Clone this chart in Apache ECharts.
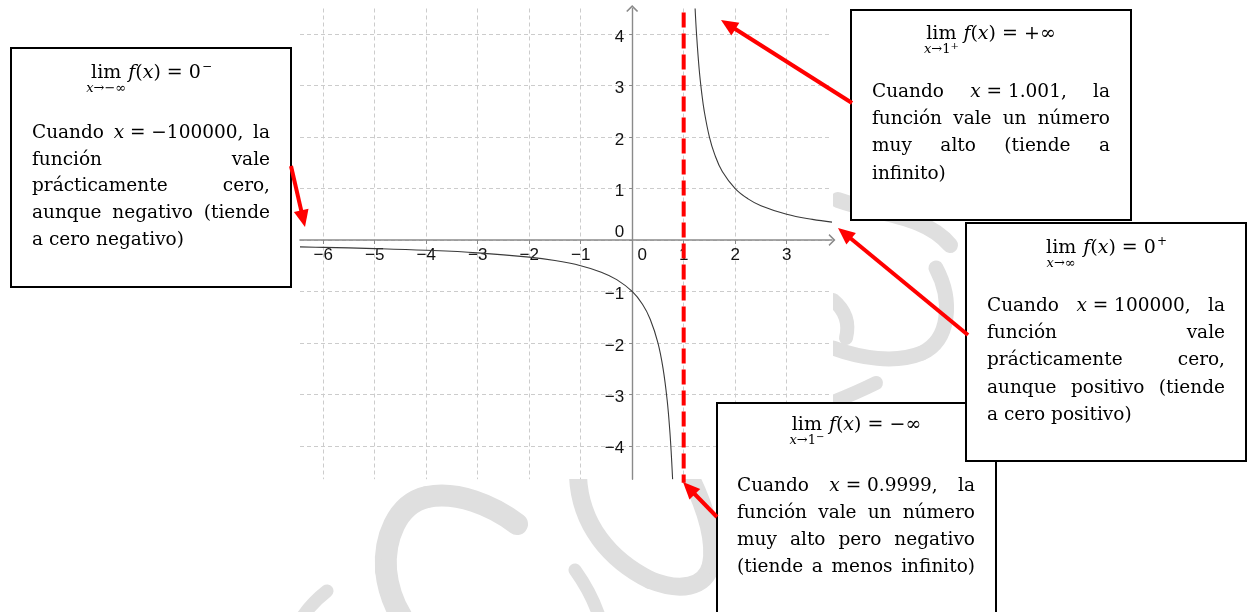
<!DOCTYPE html>
<html><head><meta charset="utf-8">
<script src="https://cdn.jsdelivr.net/npm/echarts@6/dist/echarts.min.js"></script>
<style>html,body{margin:0;padding:0;background:#fff}#c{width:1253px;height:612px}</style>
</head><body><div id="c"></div>
<script>
// ---------- data ----------
const xTicks = [-6, -5, -4, -3, -2, -1, 0, 1, 2, 3];
const yTicks = [-4, -3, -2, -1, 0, 1, 2, 3, 4];
const xRange = [-6.45, 3.88];
const yRange = [-4.65, 4.5];
// left branch of the curve (x < 1)
const leftX = [-6.45, -6, -5, -4, -3, -2, -1.5, -1, -0.6, -0.3, 0, 0.2, 0.35, 0.5, 0.6, 0.68, 0.73, 0.76, 0.785];
const leftY = [-0.134, -0.143, -0.167, -0.2, -0.25, -0.333, -0.4, -0.5, -0.625, -0.77, -1, -1.25, -1.54, -2, -2.5, -3.12, -3.7, -4.17, -4.65];
// right branch of the curve (x > 1)
const rightX = [1.222, 1.25, 1.3, 1.35, 1.4, 1.5, 1.6, 1.75, 2, 2.25, 2.5, 3, 3.5, 3.88];
const rightY = [4.5, 4, 3.33, 2.86, 2.5, 2, 1.67, 1.33, 1, 0.8, 0.667, 0.5, 0.4, 0.347];
// vertical asymptote x = 1
const asymX = [1, 1];
const asymY = [4.42, -4.72];

// ---------- annotation texts ----------
const titles = [
  { main: '$f$($x$) = 0', sup: '\u2212', sub: '$x$\u2192\u2212\u221e', subSup: '' },
  { main: '$f$($x$) = +\u221e', sup: '', sub: '$x$\u21921', subSup: '+' },
  { main: '$f$($x$) = 0', sup: '+', sub: '$x$\u2192\u221e', subSup: '' },
  { main: '$f$($x$) = \u2212\u221e', sup: '', sub: '$x$\u21921', subSup: '\u2212' }
];
const bodies = [
  ['Cuando $x$\u00a0=\u00a0\u2212100000, la', 'funci\u00f3n vale', 'pr\u00e1cticamente cero,', 'aunque negativo (tiende', 'a cero negativo)'],
  ['Cuando $x$\u00a0=\u00a01.001, la', 'funci\u00f3n vale un n\u00famero', 'muy alto (tiende a', 'infinito)'],
  ['Cuando $x$\u00a0=\u00a0100000, la', 'funci\u00f3n vale', 'pr\u00e1cticamente cero,', 'aunque positivo (tiende', 'a cero positivo)'],
  ['Cuando $x$\u00a0=\u00a00.9999, la', 'funci\u00f3n vale un n\u00famero', 'muy alto pero negativo', '(tiende a menos infinito)']
];

// ---------- layout (pixels) ----------
const boxLayout = [
  { x: 11, y: 48, w: 280, h: 239, ty: 73, bx0: 32, bx1: 270, by: 133, dy: 26.8, justifyLast: false },
  { x: 851, y: 10, w: 280, h: 210, ty: 34, bx0: 872, bx1: 1110, by: 92, dy: 27.3, justifyLast: false },
  { x: 966, y: 223, w: 280, h: 238, ty: 248, bx0: 987, bx1: 1225, by: 306, dy: 27.3, justifyLast: false },
  { x: 717, y: 403, w: 279, h: 240, ty: 425, bx0: 737, bx1: 975, by: 486, dy: 27, justifyLast: true }
];
const arrows = [
  [[291, 166], [305, 227]],
  [[852, 103], [721, 20]],
  [[968, 335], [838, 228]],
  [[717, 517], [683, 482]]
];
const GRID = { left: 300, top: 8.5, width: 532, height: 470.7 };

const SERIF = '"DejaVu Serif"';
const FS = 18.5, TFS = 19, SUBFS = 13, SUPFS = 12;
const mctx = document.createElement('canvas').getContext('2d');
function fnt(size, italic) { return (italic ? 'italic ' : '') + size + 'px ' + SERIF; }
function meas(t, f) { mctx.font = f; return mctx.measureText(t).width; }
function parseRuns(u, size) {
  return u.split('$').map((p, i) => ({ t: p, f: fnt(size, i % 2 === 1) })).filter(r => r.t.length);
}
function runsW(runs) { return runs.reduce((s, r) => s + meas(r.t, r.f), 0); }
function textEl(t, x, y, f) {
  return { type: 'text', x: x, y: y, z: 20, silent: true,
    style: { text: t, font: f, fill: '#000', align: 'left', verticalAlign: 'middle', textAlign: 'left', textVerticalAlign: 'middle' } };
}
function pushRuns(els, runs, x, y) {
  runs.forEach(r => { els.push(textEl(r.t, x, y, r.f)); x += meas(r.t, r.f); });
  return x;
}
function layoutLine(els, line, x0, x1, y, justify) {
  const units = line.split(' ').map(u => parseRuns(u, FS));
  const widths = units.map(runsW);
  const total = widths.reduce((a, b) => a + b, 0);
  const space = meas(' ', fnt(FS));
  let gap = space;
  if (justify && units.length > 1) gap = Math.max(space * 0.5, (x1 - x0 - total) / (units.length - 1));
  let x = x0;
  units.forEach((runs, i) => { pushRuns(els, runs, x, y); x += widths[i] + gap; });
}
function layoutTitle(els, t, cx, y) {
  const SS = 10;
  const limW = meas('lim', fnt(TFS));
  const mainRuns = parseRuns(t.main, TFS);
  const mainW = runsW(mainRuns);
  const supW = t.sup ? meas(t.sup, fnt(SUPFS)) : 0;
  const gap = 7;
  const total = limW + gap + mainW + supW;
  let x = cx - total / 2;
  els.push(textEl('lim', x, y, fnt(TFS)));
  const limC = x + limW / 2;
  const subRuns = parseRuns(t.sub, SUBFS);
  const subW = runsW(subRuns);
  const subSupW = t.subSup ? meas(t.subSup, fnt(SS)) : 0;
  let sx = limC - (subW + subSupW) / 2;
  sx = pushRuns(els, subRuns, sx, y + 16);
  if (t.subSup) els.push(textEl(t.subSup, sx, y + 12, fnt(SS)));
  x += limW + gap;
  x = pushRuns(els, mainRuns, x, y);
  if (t.sup) els.push(textEl(t.sup, x + 1, y - 6, fnt(SUPFS)));
}
function arrowEls(tail, tip) {
  const dx = tip[0] - tail[0], dy = tip[1] - tail[1];
  const L = Math.hypot(dx, dy), ux = dx / L, uy = dy / L;
  const hl = 17, hw = 7.5;
  const bx = tip[0] - ux * hl, by = tip[1] - uy * hl;
  return [
    { type: 'line', z: 30, silent: true, shape: { x1: tail[0], y1: tail[1], x2: bx + ux * 2, y2: by + uy * 2 },
      style: { stroke: '#f00', lineWidth: 4, lineCap: 'butt' } },
    { type: 'polygon', z: 30, silent: true,
      shape: { points: [[tip[0], tip[1]], [bx - uy * hw, by + ux * hw], [bx + uy * hw, by - ux * hw]] },
      style: { fill: '#f00' } }
  ];
}

// ---------- watermark (faint grey strokes behind everything) ----------
const WM = '#dfdfdf';
const wmPaths = [
  { d: 'M517,524 C492,505 457,491 427,497 C396,504 384,540 386,570 C388,590 395,606 401,616', w: 22 },
  { d: 'M578,476 C580,525 610,560 650,580 C680,592 705,588 711,565 C716,540 704,505 690,476', w: 18 },
  { d: 'M575,570 C585,584 593,598 599,616', w: 13 },
  { d: 'M327,591 C318,598 310,606 303,616', w: 13 },
  { d: 'M838,200 C880,215 925,215 950,245', w: 16 },
  { d: 'M936,268 C953,300 950,340 922,353 C895,364 860,358 833,348', w: 15 },
  { d: 'M833,300 C845,310 850,322 846,338', w: 14 },
  { d: 'M833,402 C848,396 862,390 876,383', w: 14 }
];

const els = [];
wmPaths.forEach(p => {
  const n = p.d.match(/-?\d+(\.\d+)?/g).map(Number);
  let sx = n[0], sy = n[1];
  for (let k = 2; k + 5 < n.length; k += 6) {
    els.push({ type: 'bezierCurve', z: -5, silent: true,
      shape: { x1: sx, y1: sy, cpx1: n[k], cpy1: n[k + 1], cpx2: n[k + 2], cpy2: n[k + 3], x2: n[k + 4], y2: n[k + 5] },
      style: { fill: null, stroke: WM, lineWidth: p.w, lineCap: 'round' } });
    sx = n[k + 4]; sy = n[k + 5];
  }
});
// white background of the plotted picture (hides the watermark inside it)
els.push({ type: 'rect', z: -4, silent: true, shape: { x: 294, y: 0, width: 539, height: 479 }, style: { fill: '#fff' } });

const order = [3, 2, 0, 1];
order.forEach(i => {
  const b = boxLayout[i];
  els.push({ type: 'rect', z: 20, silent: true, shape: { x: b.x, y: b.y, width: b.w, height: b.h },
    style: { fill: '#fff', stroke: '#000', lineWidth: 2 } });
  layoutTitle(els, titles[i], b.x + b.w / 2, b.ty);
  const lines = bodies[i];
  lines.forEach((ln, k) => layoutLine(els, ln, b.bx0, b.bx1, b.by + k * b.dy, k < lines.length - 1 || b.justifyLast));
});
arrows.forEach(a => arrowEls(a[0], a[1]).forEach(e => els.push(e)));

// ---------- chart ----------
// axes pass through the origin: shift them from the grid edges to x = 0 / y = 0
const zeroYpx = GRID.top + GRID.height * (yRange[1] - 0) / (yRange[1] - yRange[0]);
const zeroXpx = GRID.left + GRID.width * (0 - xRange[0]) / (xRange[1] - xRange[0]);
const xOffset = -(GRID.top + GRID.height - zeroYpx);
const yOffset = -(zeroXpx - GRID.left);

const ARROW = 'path://M0,6 L6,0 L12,6 L10.8,6.9 L6,2.2 L1.2,6.9 Z';
const fmt = v => v === 0 ? '{z|0}' : (v < 0 ? '\u2212' + Math.abs(v) : String(v));
const labelFont = { color: '#111', fontSize: 17, fontFamily: 'Liberation Sans' };
const gridLine = { lineStyle: { color: '#cccccc', width: 1, type: [4, 3] } };

const chart = echarts.init(document.getElementById('c'), null, { renderer: 'canvas' });
chart.setOption({
  animation: false,
  backgroundColor: '#fff',
  grid: { left: GRID.left, top: GRID.top, width: GRID.width, height: GRID.height, containLabel: false, outerBoundsMode: 'none' },
  xAxis: {
    type: 'value', min: xRange[0], max: xRange[1], position: 'bottom', offset: xOffset,
    axisLine: { onZero: false, lineStyle: { color: '#8a8a8a', width: 1.6 }, symbol: ['none', ARROW], symbolSize: [12, 7] },
    axisTick: { show: true, customValues: xTicks, length: 4, lineStyle: { color: '#8a8a8a', width: 1 } },
    axisLabel: Object.assign({ customValues: xTicks, formatter: fmt, margin: 7,
      rich: { z: Object.assign({ padding: [0, 0, 0, 20] }, labelFont) } }, labelFont),
    splitLine: Object.assign({ show: true }, gridLine)
  },
  yAxis: {
    type: 'value', min: yRange[0], max: yRange[1], position: 'left', offset: yOffset,
    axisLine: { onZero: false, lineStyle: { color: '#8a8a8a', width: 1.4 }, symbol: ['none', ARROW], symbolSize: [12, 7] },
    axisTick: { show: true, customValues: yTicks, length: 3, lineStyle: { color: '#8a8a8a', width: 1 } },
    axisLabel: Object.assign({ customValues: yTicks, formatter: fmt, margin: 8, padding: [6, 0, 0, 0],
      rich: { z: Object.assign({ padding: [0, 0, 22, 0] }, labelFont) } }, labelFont),
    splitLine: Object.assign({ show: true }, gridLine)
  },
  series: [
    { type: 'line', data: leftX.map((x, i) => [x, leftY[i]]), symbol: 'none', smooth: 0.4,
      lineStyle: { color: '#3a3a3a', width: 1.1 }, silent: true, z: 3 },
    { type: 'line', data: rightX.map((x, i) => [x, rightY[i]]), symbol: 'none', smooth: 0.4,
      lineStyle: { color: '#3a3a3a', width: 1.1 }, silent: true, z: 3 },
    { type: 'line', data: asymX.map((x, i) => [x, asymY[i]]), symbol: 'none', clip: false,
      lineStyle: { color: '#f00', width: 4, type: [15, 6], cap: 'butt' }, silent: true, z: 4 }
  ],
  graphic: { elements: els }
});
</script></body></html>
